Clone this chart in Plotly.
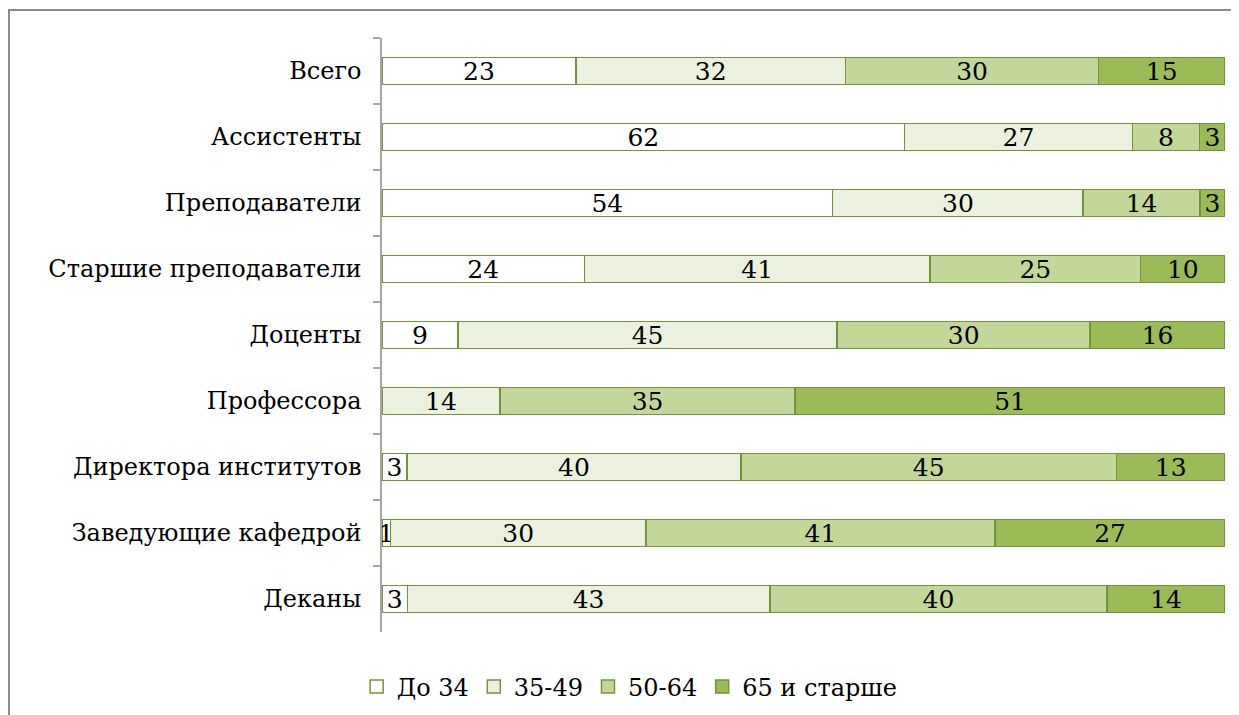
import plotly.graph_objects as go

categories = ["Всего", "Ассистенты", "Преподаватели", "Старшие преподаватели", "Доценты",
              "Профессора", "Директора институтов", "Заведующие кафедрой", "Деканы"]
series_names = ["До 34", "35-49", "50-64", "65 и старше"]
v_do34 = [23, 62, 54, 24, 9, 0, 3, 1, 3]
v_35_49 = [32, 27, 30, 41, 45, 14, 40, 30, 43]
v_50_64 = [30, 8, 14, 25, 30, 35, 45, 41, 40]
v_65 = [15, 3, 3, 10, 16, 51, 13, 27, 14]
colors = ["#FFFFFF", "#EBF1DE", "#C4D79B", "#9BBB59"]
EDGE = "#76923C"

FONT = "DejaVu Serif"
OFF = 8  # page body margin
W, H = 1239 - OFF, 715 - OFF
L, R, T, B = 382 - OFF, 14, 38 - OFF, 83

fig = go.Figure()
for name, vals, col in zip(series_names, [v_do34, v_35_49, v_50_64, v_65], colors):
    fig.add_trace(go.Bar(
        y=categories, x=vals, name=name, orientation="h", showlegend=False,
        marker=dict(color=col, line=dict(color=EDGE, width=1.5)),
        text=[str(v) if v > 0 else "" for v in vals],
        textposition="inside", insidetextanchor="middle", constraintext="none",
        textfont=dict(family=FONT, size=25, color="black"),
        textangle=0, cliponaxis=False, hoverinfo="skip",
    ))
# legend entries with larger square swatches
for name, col in zip(series_names, colors):
    fig.add_trace(go.Scatter(
        x=[None], y=[None], mode="markers", name=name, showlegend=True,
        marker=dict(symbol="square", size=13, color=col, line=dict(color=EDGE, width=1.5)),
        hoverinfo="skip",
    ))

pw = W - L - R
ph = H - T - B
fig.add_shape(type="rect", xref="paper", yref="paper",
              x0=(1 - L) / pw, x1=(W + 20 - L) / pw,
              y0=1 + (T - (H + 20)) / ph, y1=1 + (T - 2) / ph,
              line=dict(color="#8C8C8C", width=2), fillcolor="rgba(0,0,0,0)", layer="below")

fig.update_layout(
    width=W, height=H, barmode="stack", barnorm="percent", bargap=0.59,
    margin=dict(l=L, r=R, t=T, b=B),
    paper_bgcolor="white", plot_bgcolor="white",
    font=dict(family=FONT, size=24, color="black"),
    showlegend=True,
    legend=dict(orientation="h", xref="container", x=0.505, xanchor="center",
                yref="container", y=0.008, yanchor="bottom",
                font=dict(family=FONT, size=24), traceorder="normal",
                tracegroupgap=0, itemwidth=30),
    xaxis=dict(visible=False, range=[0, 100], fixedrange=True),
    yaxis=dict(categoryorder="array", categoryarray=categories, autorange="reversed",
               showline=True, linecolor="#A6A6A6", linewidth=1.5,
               ticks="outside", ticklen=7, tickcolor="#A6A6A6", tickwidth=1.5,
               tickson="boundaries", ticklabelstandoff=14,
               tickfont=dict(family=FONT, size=24, color="black"),
               showgrid=False, zeroline=False),
)
fig.write_html("out.html")
